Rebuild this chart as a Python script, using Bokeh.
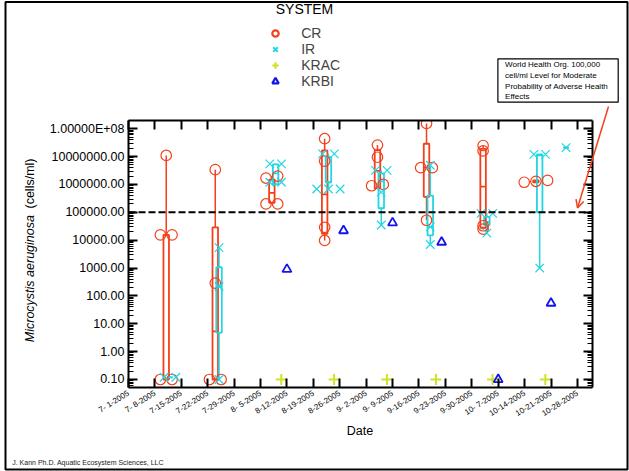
import math
import numpy as np
import pandas as pd
from bokeh.plotting import figure
from bokeh.core.properties import value
from bokeh.models import (Range1d, FixedTicker, LinearAxis, LogAxis, Span,
                          Legend, LegendItem, Arrow, OpenHead)
from bokeh.embed import file_html
from bokeh.resources import INLINE

# ---------------- data ----------------
START = "2005-07-01"
x_tick_labels = ["7- 1-2005", "7- 8-2005", "7-15-2005", "7-22-2005", "7-29-2005",
                 "8- 5-2005", "8-12-2005", "8-19-2005", "8-26-2005", "9- 2-2005",
                 "9- 9-2005", "9-16-2005", "9-23-2005", "9-30-2005", "10- 7-2005",
                 "10-14-2005", "10-21-2005", "10-28-2005"]
x_tick_dates = ["2005-07-01", "2005-07-08", "2005-07-15", "2005-07-22", "2005-07-29",
                "2005-08-05", "2005-08-12", "2005-08-19", "2005-08-26", "2005-09-02",
                "2005-09-09", "2005-09-16", "2005-09-23", "2005-09-30", "2005-10-07",
                "2005-10-14", "2005-10-21", "2005-10-28"]

y_tick_values = [0.1, 1, 10, 100, 1e3, 1e4, 1e5, 1e6, 1e7, 1e8]
y_tick_labels = ["0.10", "1.00", "10.00", "100.00", "1000.00", "10000.00",
                 "100000.00", "1000000.00", "10000000.00", "1.00000E+08"]

who_level = 1e5
who_note = "World Health Org. 100,000\ncell/ml Level for  Moderate\nProbability of Adverse Health\nEffects"

systems = ["CR", "IR", "KRAC", "KRBI"]

cr_dates = ["2005-07-11", "2005-07-24", "2005-08-08", "2005-08-22",
            "2005-09-05", "2005-09-18", "2005-10-03", "2005-10-17"]
cr_values = [[1.1e7, 1.55e4, 1.55e4, 0.1, 0.1],
             [3.4e6, 288, 0.1, 0.1],
             [2.0e6, 1.7e6, 2.0e5, 2.0e5],
             [4.4e7, 6.9e6, 2.9e4, 9.8e3],
             [2.6e7, 9.5e6, 1.0e6, 9.0e5],
             [1.55e8, 4.0e6, 4.0e6, 5.2e4],
             [2.5e7, 1.6e7, 3.3e4, 2.5e4],
             [1.4e6, 1.3e6, 1.2e6]]
cr_q1 = [0.1, 0.1, 2.2e5, 1.7e4, 7.2e5, 3.6e5, 2.8e4, 1.2e6]
cr_med = [1.55e4, 5.3, 5.0e5, 4.4e5, 3.1e6, 4.0e6, 8.3e5, 1.3e6]
cr_q3 = [1.55e4, 2.9e4, 1.5e6, 1.66e7, 1.7e7, 2.9e7, 1.9e7, 1.4e6]

ir_dates = ["2005-07-12", "2005-07-25", "2005-08-09", "2005-08-23", "2005-09-06",
            "2005-09-19", "2005-10-04", "2005-10-18", "2005-10-25"]
ir_values = [[0.12, 0.12],
             [5400, 217, 0.1],
             [5.5e6, 5.5e6, 1.2e6, 1.2e6],
             [1.26e7, 1.26e7, 6.9e5, 6.9e5, 6.9e5],
             [3.2e6, 3.2e6, 5.3e5, 3.5e4],
             [4.9e6, 3.0e4, 7.0e3],
             [9.2e4, 9.2e4, 1.8e4],
             [1.2e7, 1.2e7, 1.0e3],
             [2.1e7]]
ir_q1 = [0.12, 4.8, 1.0e6, 1.2e6, 1.4e5, 1.5e4, 3.5e4, 1.0e5, 2.1e7]
ir_med = [0.12, 217, 2.5e6, 1.2e6, 1.3e6, 3.0e4, 4.5e4, 1.1e7, 2.1e7]
ir_q3 = [0.12, 1070, 5.3e6, 9.5e6, 2.5e6, 4.0e5, 6.9e4, 1.2e7, 2.1e7]

krac_dates = ["2005-08-10 12:00", "2005-08-24 12:00", "2005-09-07 12:00",
              "2005-09-20 12:00", "2005-10-05 12:00", "2005-10-19 12:00"]
krac_values = [0.1, 0.1, 0.1, 0.1, 0.1, 0.1]

krbi_dates = ["2005-08-12", "2005-08-27", "2005-09-09", "2005-09-22", "2005-10-07", "2005-10-21"]
krbi_values = [900, 2.2e4, 4.2e4, 8.5e3, 0.1, 55]

# ---------------- styling ----------------
CR_C = "#f2401c"
IR_C = "#22d6e2"
KRAC_C = "#cfe326"
KRBI_C = "#1414ee"
FONT = "Liberation Sans"

W, H = 629, 471
BL, BR, BT, BB = 128, 37, 120, 84


def days(s):
    return (pd.Timestamp(s) - pd.Timestamp(START)) / pd.Timedelta(days=1)


p = figure(width=W, height=H, x_range=Range1d(0, 123), y_range=Range1d(0.0516, 1.977e8),
           y_axis_type="log", output_backend="svg", toolbar_location=None,
           min_border_left=BL, min_border_right=BR, min_border_top=BT, min_border_bottom=BB,
           background_fill_color="white", border_fill_color="white")
p.outline_line_color = None
p.xgrid.visible = False
p.ygrid.visible = False

x_ticks = [days(d) for d in x_tick_dates]
xt = FixedTicker(ticks=x_ticks, minor_ticks=[])
minor = [m * 10.0 ** e for e in range(-2, 9) for m in range(2, 10)]
yt = FixedTicker(ticks=y_tick_values, minor_ticks=minor)


def style_axis(ax):
    ax.axis_line_width = 2
    ax.axis_line_color = "black"
    ax.major_tick_in = 9
    ax.major_tick_out = 0
    ax.major_tick_line_width = 2
    ax.minor_tick_in = 5
    ax.minor_tick_out = 0
    ax.minor_tick_line_width = 1
    ax.major_label_text_font = FONT
    ax.major_label_text_color = "black"


bx = p.below[0]
bx.ticker = xt
bx.major_label_overrides = {d: lab for d, lab in zip(x_ticks, x_tick_labels)}
style_axis(bx)
bx.major_label_orientation = math.radians(32)
bx.major_label_text_font_size = "8px"
bx.major_label_standoff = 5

ly = p.left[0]
ly.ticker = yt
ly.major_label_overrides = {v: lab for v, lab in zip(y_tick_values, y_tick_labels)}
style_axis(ly)
ly.major_label_text_font_size = "12.5px"
ly.major_label_standoff = 4

tx = LinearAxis(ticker=xt, major_label_overrides={d: "" for d in x_ticks})
style_axis(tx)
tx.major_label_standoff = 0
p.add_layout(tx, "above")
ry = LogAxis(ticker=yt, major_label_overrides={v: "" for v in y_tick_values})
style_axis(ry)
ry.major_label_standoff = 0
p.add_layout(ry, "right")

p.add_layout(Span(location=who_level, dimension="width", line_color="black",
                  line_width=2, line_dash="7 3"))

BOXW = 1.46
JSTEP = 3.1


def spread(vals):
    logs = np.log10(np.asarray(vals, dtype=float))
    order = np.argsort(logs, kind="stable")
    offs = np.zeros(len(vals))
    clusters, cur = [], [order[0]]
    for a, b in zip(order[:-1], order[1:]):
        if logs[b] - logs[a] < 0.08:
            cur.append(b)
        else:
            clusters.append(cur)
            cur = [b]
    clusters.append(cur)
    for c in clusters:
        n = len(c)
        for i, k in enumerate(c):
            offs[k] = (i - (n - 1) / 2) * JSTEP
    return offs


def draw_boxes(dates, values, q1, med, q3, color):
    xs = [days(d) for d in dates]
    lo = [min(v) for v in values]
    hi = [max(v) for v in values]
    p.segment(x0=xs, y0=q3, x1=xs, y1=hi, line_color=color, line_width=1.5)
    p.segment(x0=xs, y0=lo, x1=xs, y1=q1, line_color=color, line_width=1.5)
    p.vbar(x=xs, width=BOXW, bottom=q1, top=q3, fill_color=None, line_color=color, line_width=1.8)
    p.segment(x0=[x - BOXW / 2 for x in xs], y0=med, x1=[x + BOXW / 2 for x in xs], y1=med,
              line_color=color, line_width=1.8)


def points(dates, values):
    px, py = [], []
    for d, v in zip(dates, values):
        offs = spread(v)
        px += list(days(d) + offs)
        py += list(v)
    return px, py


draw_boxes(cr_dates, cr_values, cr_q1, cr_med, cr_q3, CR_C)
draw_boxes(ir_dates, ir_values, ir_q1, ir_med, ir_q3, IR_C)

cx, cy = points(cr_dates, cr_values)
p.scatter(cx, cy, marker="circle", size=10.5, fill_color=None, line_color=CR_C, line_width=1.2)
ix, iy = points(ir_dates, ir_values)
p.scatter(ix, iy, marker="x", size=12, line_color=IR_C, line_width=1.2)
p.scatter([days(d) for d in krac_dates], krac_values, marker="cross", size=11,
          line_color=KRAC_C, line_width=2)
p.scatter([days(d) for d in krbi_dates], krbi_values, marker="triangle", size=9,
          fill_color=None, line_color=KRBI_C, line_width=1.8)

# ---------------- overlay layer for titles, legend and note (page pixel coordinates) ----------------
o = figure(width=W, height=H, x_range=Range1d(0, W), y_range=Range1d(H, 0),
           output_backend="svg", toolbar_location=None, x_axis_location=None,
           y_axis_location=None, min_border=0, background_fill_color=None,
           border_fill_color=None)
o.outline_line_color = None
o.xgrid.visible = False
o.ygrid.visible = False
o.styles = {"position": "absolute", "left": "0px", "top": "0px"}

# page frame
o.quad(left=5, right=627, top=1.5, bottom=469, fill_color=None, line_color="black", line_width=2)


def txt(x, y, t, size, align="left", baseline="middle", angle=0, style="normal", color="black"):
    o.text(x=[x], y=[y], text=[t], text_font=value(FONT), text_font_size=value(size),
           text_align=align, text_baseline=baseline, angle=angle, text_font_style=style,
           text_color=color)


txt(304, 8.5, "SYSTEM", "14px", align="center")
txt(29.5, 341.7, "Microcystis aeruginosa", "12.5px", angle=math.pi / 2, style="italic")
txt(29.5, 208, "(cells/ml)", "12.5px", angle=math.pi / 2)
txt(359.5, 430, "Date", "12.5px", align="center")
txt(11.7, 461.7, "J. Kann Ph.D. Aquatic Ecosystem Sciences, LLC", "7px", color="#222222")

# note box with arrow
o.quad(left=497.4, right=617.7, top=58.3, bottom=101.7, fill_color="white",
       line_color="black", line_width=1.2)
o.text(x=[504.6], y=[59.5], text=[who_note], text_font=value(FONT), text_font_size=value("8px"),
       text_align="left", text_baseline="top", text_line_height=1.2, text_color="black")
o.add_layout(Arrow(end=OpenHead(size=8, line_color=CR_C, line_width=1.5),
                   x_start=608, y_start=106, x_end=577, y_end=207.5,
                   line_color=CR_C, line_width=1.5))

# legend (renderers placed outside the visible range)
lg_cr = o.scatter([-50], [-50], marker="circle", fill_color=None, line_color=CR_C, line_width=2.2)
lg_ir = o.scatter([-50], [-50], marker="x", line_color=IR_C, line_width=2)
lg_kc = o.scatter([-50], [-50], marker="cross", line_color=KRAC_C, line_width=2.2)
lg_kb = o.scatter([-50], [-50], marker="triangle", fill_color=None, line_color=KRBI_C, line_width=2.2)
legend = Legend(items=[LegendItem(label=s, renderers=[r])
                       for s, r in zip(systems, [lg_cr, lg_ir, lg_kc, lg_kb])],
                location=(267.2, H - 89.3), glyph_width=16, glyph_height=16,
                label_height=16, spacing=0, padding=0, margin=0, label_standoff=18,
                border_line_color=None, background_fill_alpha=0,
                label_text_font=FONT, label_text_font_size="14px")
o.add_layout(legend)

open("out.html", "w").write(file_html([p, o], INLINE))
